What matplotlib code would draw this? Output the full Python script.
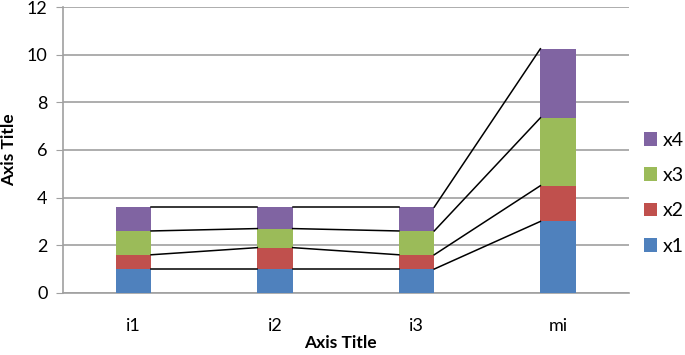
import numpy as np
import matplotlib
matplotlib.use("Agg")
from matplotlib import pyplot as plt

plt.rcParams['font.family'] = ['Lato', 'DejaVu Sans']

categories = ['i1', 'i2', 'i3', 'mi']
x1 = [1.0, 1.0, 1.0, 3.0]
x2 = [0.6, 0.9, 0.6, 1.5]
x3 = [1.0, 0.8, 1.0, 2.85]
x4 = [1.0, 0.9, 1.0, 2.9]
series = [('x1', x1, '#4F81BD'), ('x2', x2, '#C0504D'),
          ('x3', x3, '#9BBB59'), ('x4', x4, '#8064A2')]

fig = plt.figure(figsize=(6.85, 3.55), dpi=100)
ax = fig.add_axes([0.0915, 0.175, 0.8265, 0.805])

pos = np.arange(len(categories))
w = 0.25
bottom = np.zeros(len(categories))
handles = []
for name, vals, col in series:
    b = ax.bar(pos, vals, w, bottom=bottom, color=col, label=name, zorder=3)
    handles.append(b)
    bottom = bottom + np.array(vals)
    # series lines between bar tops
    for i in range(len(pos) - 1):
        ax.plot([pos[i] + w / 2, pos[i + 1] - w / 2], [bottom[i], bottom[i + 1]],
                color='black', lw=1.1, zorder=4)

ax.set_xlim(-0.5, 3.5)
ax.set_ylim(0, 12)
ax.set_yticks(range(0, 13, 2))
ax.set_xticks(pos)
ax.set_xticklabels(categories)
ax.tick_params(axis='x', length=0, pad=18, labelsize=13)
ax.tick_params(axis='y', length=5, color='#a0a0a0', labelsize=13, pad=6)
ax.yaxis.grid(True, color='#a0a0a0', lw=1.2, zorder=0)
for s in ['top', 'right']:
    ax.spines[s].set_visible(False)
for s in ['left', 'bottom']:
    ax.spines[s].set_color('#a0a0a0')
    ax.spines[s].set_linewidth(1.2)

fig.text(0.497, 0.033, 'Axis Title', fontsize=12.5, fontweight='bold',
         ha='center', va='center')
fig.text(0.013, 0.578, 'Axis Title', fontsize=12.5, fontweight='bold',
         ha='center', va='center', rotation=90)

leg = fig.legend(handles[::-1], [s[0] for s in series][::-1], loc='center right',
                 bbox_to_anchor=(0.999, 0.456), frameon=False, fontsize=14,
                 handlelength=0.7, handleheight=0.7, handletextpad=0.3,
                 labelspacing=0.94, borderaxespad=0, borderpad=0)

fig.savefig('out.png', dpi=100)
